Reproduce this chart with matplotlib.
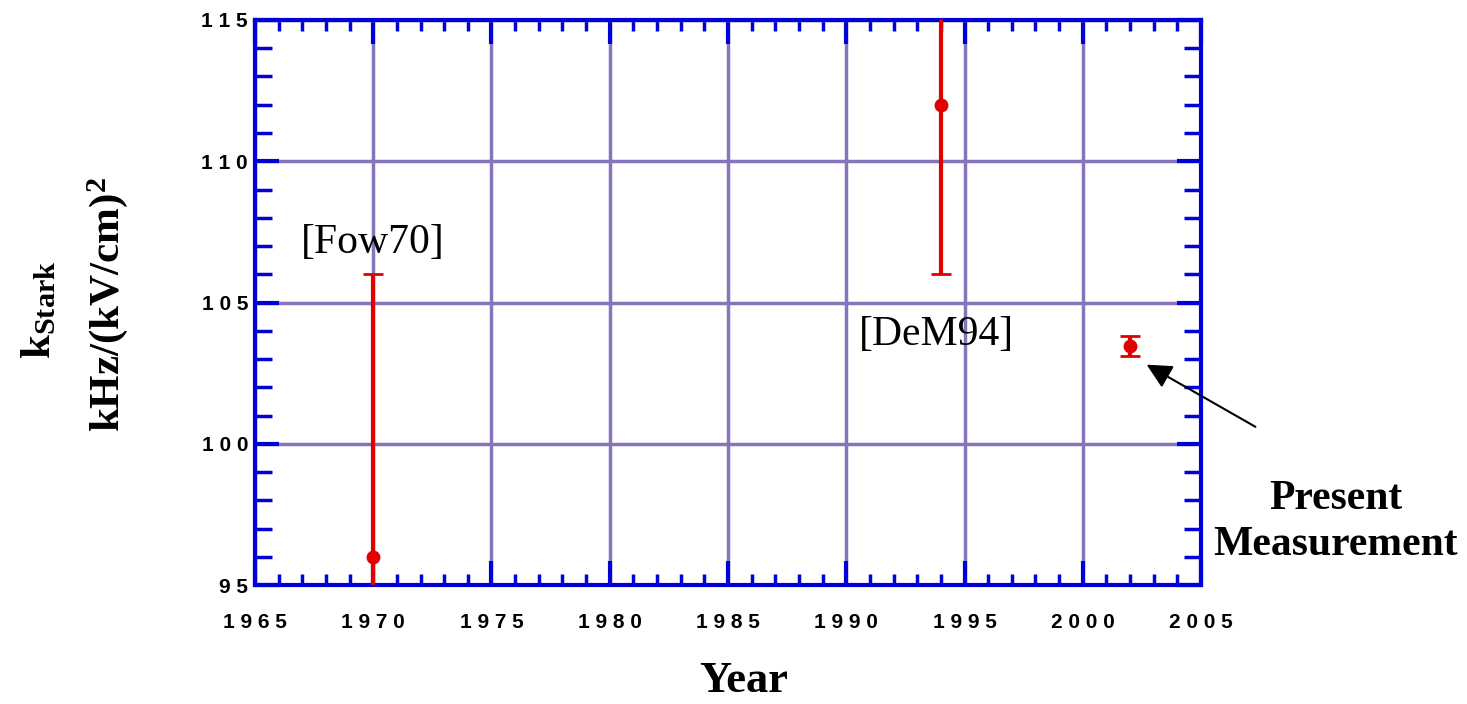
import matplotlib
matplotlib.use("Agg")
import matplotlib.pyplot as plt
from matplotlib.ticker import MultipleLocator, FuncFormatter

plt.rcParams["mathtext.fontset"] = "custom"
plt.rcParams["mathtext.bf"] = "Liberation Serif:bold"
plt.rcParams["mathtext.rm"] = "Liberation Serif"
plt.rcParams["mathtext.it"] = "Liberation Serif:italic"

# Stark coefficient measurements
years = [1970, 1994, 2002]
k_stark = [96.0, 112.0, 103.45]
k_err = [10.0, 6.0, 0.35]
refs = ["[Fow70]", "[DeM94]"]
ref_pos = [(1970.0, 107.1), (1993.8, 103.85)]

blue = "#0000d8"
grid_c = "#8675bb"
red = "#e00000"

fig = plt.figure(figsize=(14.67, 7.04), dpi=100)
ax = fig.add_axes([0.1738, 0.169, 0.6449, 0.8026])

ax.set_xlim(1965, 2005)
ax.set_ylim(95, 115)

ax.errorbar(years, k_stark, yerr=k_err, fmt="o", color=red, ms=9,
            elinewidth=3, capsize=7, capthick=2, zorder=5, clip_on=True)

# axis styling
for s in ax.spines.values():
    s.set_color(blue)
    s.set_linewidth(3)
ax.xaxis.set_major_locator(MultipleLocator(5))
ax.xaxis.set_minor_locator(MultipleLocator(1))
ax.yaxis.set_major_locator(MultipleLocator(5))
ax.yaxis.set_minor_locator(MultipleLocator(1))
ax.tick_params(which="both", direction="in", top=True, right=True, color=blue)
ax.tick_params(which="major", length=17, width=3)
ax.tick_params(which="minor", length=12, width=2.5)
ax.tick_params(axis="x", which="minor", length=8)
ax.tick_params(labelsize=15)
ax.tick_params(axis="x", pad=20)
ax.tick_params(axis="y", pad=5)
ax.grid(which="major", color=grid_c, linewidth=2.5, zorder=0)
ax.set_axisbelow(True)

spaced = FuncFormatter(lambda v, p: " ".join(str(int(round(v)))))
ax.xaxis.set_major_formatter(spaced)
ax.yaxis.set_major_formatter(spaced)
for lab in ax.get_xticklabels() + ax.get_yticklabels():
    lab.set_fontfamily("Liberation Sans")
    lab.set_fontweight("bold")

serif = "Liberation Serif"
for txt, (x, y) in zip(refs, ref_pos):
    ax.text(x, y, txt, ha="center", va="center", fontsize=30, family=serif)

# arrow pointing at the present result
ax.annotate("", xy=(2002.7, 102.8), xytext=(2007.3, 100.6),
            arrowprops=dict(arrowstyle="-|>", color="black", lw=1.5,
                            mutation_scale=38, shrinkA=0, shrinkB=0),
            annotation_clip=False)
fig.text(1336 / 1467, 1 - 522 / 704, "Present\nMeasurement", ha="center",
         va="center", fontsize=30, fontweight="bold", family=serif,
         linespacing=1.3)

fig.text(744 / 1467, 1 - 681 / 704, "Year", ha="center", va="center",
         fontsize=32, fontweight="bold", family=serif)
fig.text(40 / 1467, 1 - 310 / 704, r"k$_{\mathbf{Stark}}$", rotation=90,
         ha="center", va="center", fontsize=31, fontweight="bold", family=serif)
fig.text(108 / 1467, 1 - 305 / 704, r"kHz/(kV/cm)$^{\mathbf{2}}$", rotation=90,
         ha="center", va="center", fontsize=31, fontweight="bold", family=serif)

fig.savefig("out.png", dpi=100)
